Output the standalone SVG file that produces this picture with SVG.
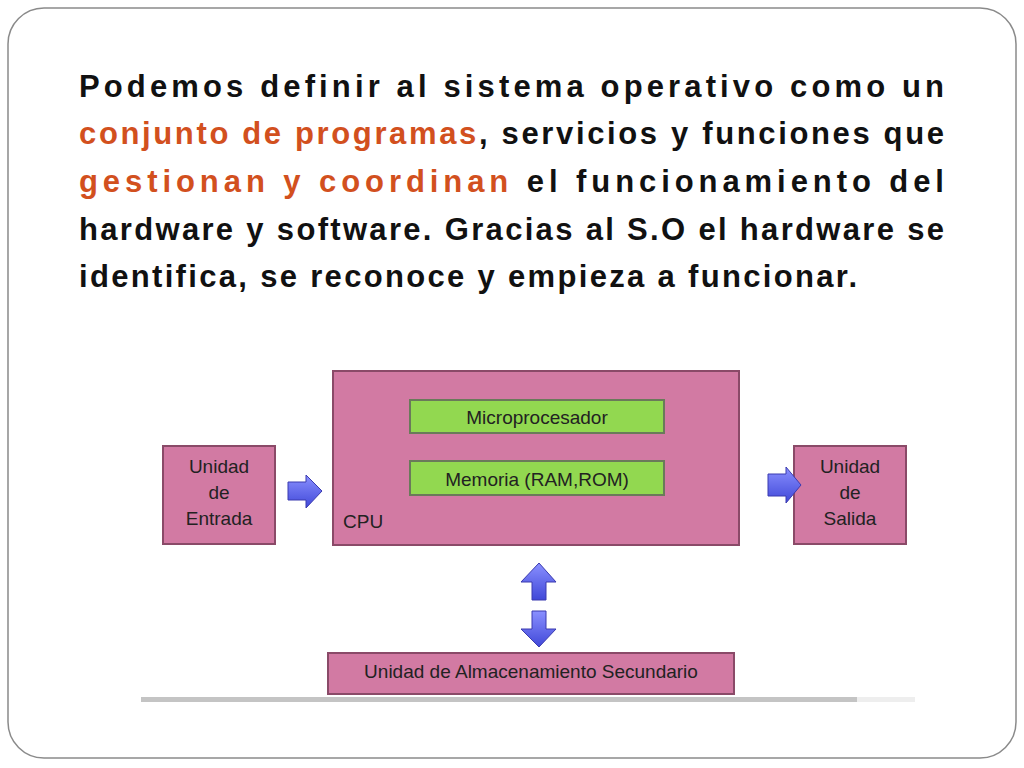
<svg xmlns="http://www.w3.org/2000/svg" width="1024" height="768" viewBox="0 0 1024 768">
<defs>
<style>
.t{font-family:"Liberation Sans",Arial,sans-serif;font-weight:bold;font-size:31px;fill:#111}
.o{fill:#d2501e}
.box{fill:#d27aa3;stroke:#8a4a68;stroke-width:2}
.g{fill:#92d850;stroke:#6a7a5a;stroke-width:2}
.l{font-family:"Liberation Sans",Arial,sans-serif;font-size:19px;fill:#222;text-anchor:middle}
.ar{fill:#6a6ef0;stroke:#3a3ab0;stroke-width:1}
</style>
<linearGradient id="ag" x1="0" y1="0" x2="0" y2="1"><stop offset="0" stop-color="#8a90ff"/><stop offset="1" stop-color="#4048d8"/></linearGradient>
</defs>
<rect x="0" y="0" width="1024" height="768" fill="#fff"/>
<rect x="8" y="8" width="1008" height="750" rx="36" fill="none" stroke="#8a8a8a" stroke-width="1.5"/>
<g id="title">
<text class="t" x="79" y="97" textLength="865" lengthAdjust="spacing">Podemos definir  al sistema operativo como un</text>
<text class="t" x="79" y="144" textLength="865" lengthAdjust="spacing"><tspan class="o">conjunto de programas</tspan>, servicios y funciones que</text>
<text class="t" x="79" y="192" textLength="865" lengthAdjust="spacing"><tspan class="o">gestionan y coordinan</tspan> el funcionamiento del</text>
<text class="t" x="79" y="240" textLength="865" lengthAdjust="spacing">hardware y software. Gracias al S.O el hardware se</text>
<text class="t" x="79" y="287" textLength="778" lengthAdjust="spacing">identifica, se reconoce  y empieza a funcionar.</text>
</g>
<g id="cpu"><rect class="box" x="333" y="371" width="406" height="174"/><text class="l" x="343" y="528" style="text-anchor:start">CPU</text></g>
<g id="micro"><rect class="g" x="410" y="400" width="254" height="33"/><text class="l" x="537" y="424">Microprocesador</text></g>
<g id="memoria"><rect class="g" x="410" y="461" width="254" height="34"/><text class="l" x="537" y="486">Memoria (RAM,ROM)</text></g>
<g id="entrada"><rect class="box" x="163" y="446" width="112" height="98"/><text class="l" x="219" y="473">Unidad</text><text class="l" x="219" y="499">de</text><text class="l" x="219" y="525">Entrada</text></g>
<g id="salida"><rect class="box" x="794" y="446" width="112" height="98"/><text class="l" x="850" y="473">Unidad</text><text class="l" x="850" y="499">de</text><text class="l" x="850" y="525">Salida</text></g>
<g id="almacen"><rect class="box" x="328" y="653" width="406" height="41"/><text class="l" x="531" y="678">Unidad de Almacenamiento Secundario</text></g>
<rect x="141" y="697" width="716" height="5" fill="#c4c4c4"/>
<rect x="857" y="697" width="58" height="5" fill="#eee"/>
<g id="connectors" fill="url(#ag)" stroke="#3a3ab0" stroke-width="1">
<path d="M288 482 H306 V475 L322 491 L306 508 V500 H288 Z"/>
<path d="M768 474 H786 V467 L801 485 L786 503 V496 H768 Z"/>
<path d="M539 563 L556 582 H546 V600 H532 V582 H521 Z"/>
<path d="M532 611 H546 V629 H556 L539 647 L521 629 H532 Z"/>
</g>
</svg>
